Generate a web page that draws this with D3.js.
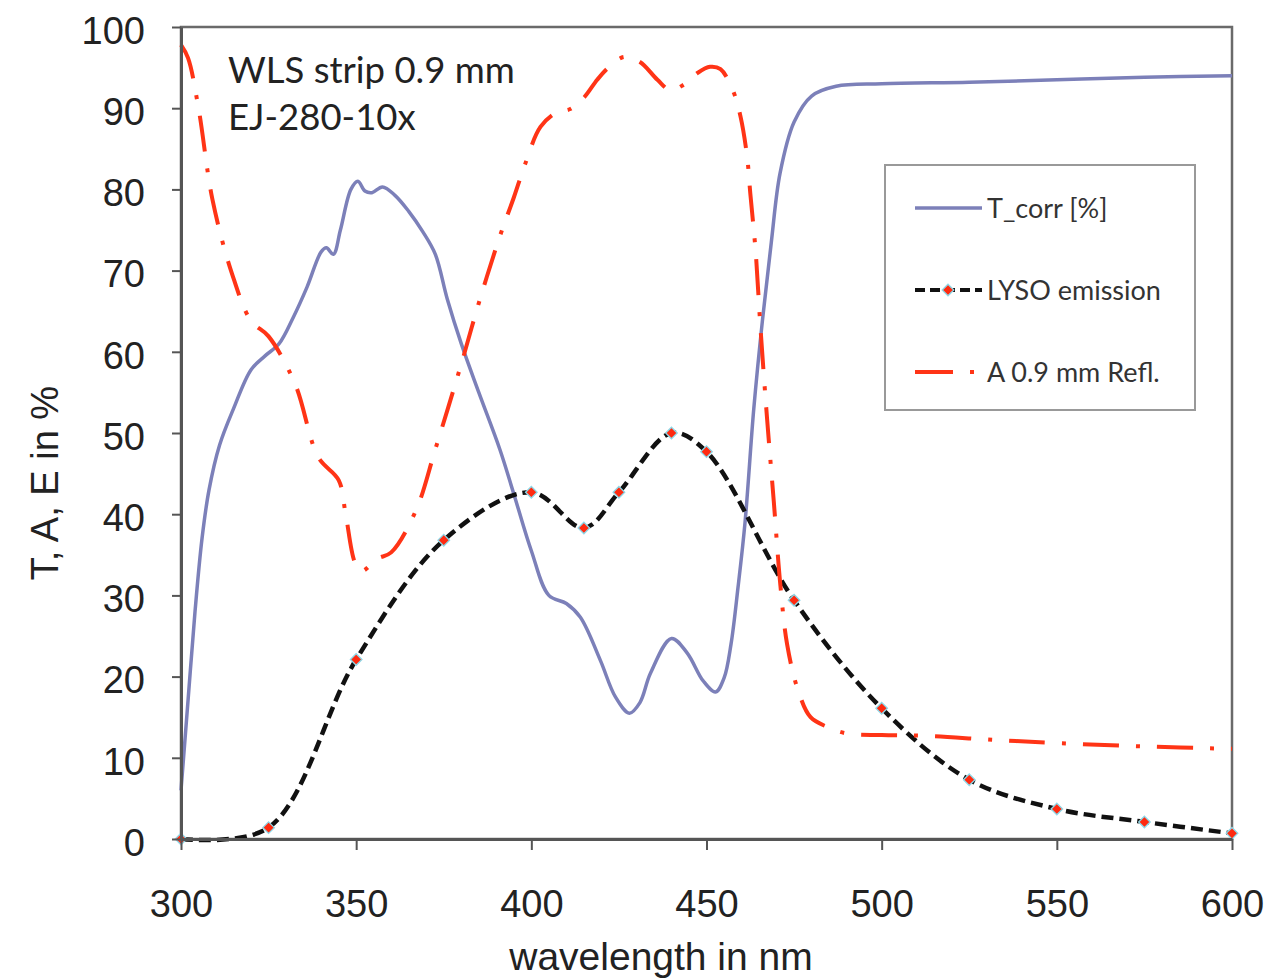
<!DOCTYPE html>
<html>
<head>
<meta charset="utf-8">
<script src="https://d3js.org/d3.v7.min.js"></script>
<style>
  body { margin: 0; background: #fff; }
  svg { display: block; }
</style>
</head>
<body>
<svg id="chart"></svg>
<script>
// T_corr [%] (transmission)
const tWavelength = [300, 302, 304, 306, 308, 311, 315, 320, 324, 328, 332, 336, 340, 341.5, 343.5, 345.5,
  348.5, 350.5, 352.5, 354.5, 357.5, 361, 365, 369, 372.6, 376, 380, 385, 391, 395, 400, 405, 410, 414,
  419.7, 424, 428, 431, 434, 440, 444.5, 449, 452.6, 455, 457, 459, 461, 463.5, 466, 468.5, 471, 475,
  480, 487, 500, 525, 550, 575, 600];
const tCorr = [6, 17, 28, 37, 43, 48.5, 53, 57.8, 59.5, 61, 64.2, 68, 72.3, 72.8, 72, 75,
  80, 81, 79.8, 79.6, 80.3, 79.3, 77.3, 74.8, 72, 66.5, 61, 55, 48, 42.5, 35.5, 30, 29, 27.3,
  22, 17.5, 15.5, 16.8, 20.4, 24.7, 22.9, 19.5, 18.1, 19.8, 24, 31, 39, 53, 64, 73.5, 82, 88.3,
  91.5, 92.7, 93, 93.2, 93.5, 93.8, 94];

// A 0.9 mm Refl.
const aWavelength = [300, 302, 305, 309, 314.5, 320, 325, 332.6, 339.2, 345, 347, 349.7, 351.6, 356, 360,
  367, 372.6, 380, 385, 391, 395, 398.3, 402.6, 407.3, 411.1, 415, 418.8, 422, 426.4, 431, 436, 439.7,
  443.5, 447.3, 451, 454, 457.7, 459.7, 461.6, 462.5, 464, 465.4, 467.3, 469.2, 471.1, 473, 476, 479.7,
  484.5, 490, 500, 513, 532, 551, 575, 600];
const aRefl = [97.8, 96.2, 90, 78.7, 69.7, 63.8, 61.9, 56, 47, 44.2, 40, 34, 33, 34.5, 35.3,
  40.4, 48, 58.5, 66, 74.2, 79, 83.2, 87.7, 89.5, 89.9, 91.3, 93.5, 95, 96.3, 95.7, 93.5, 92.2,
  92.9, 94.3, 95.1, 94.8, 92, 89, 84, 79.5, 72.5, 63, 51.7, 41.6, 31.2, 24, 18.5, 15,
  13.8, 13, 12.8, 12.7, 12.2, 11.8, 11.4, 11.1];

// LYSO emission (markers)
const lysoWavelength = [300, 325, 350, 375, 400, 415, 425, 440, 450, 475, 500, 525, 550, 575, 600];
const lysoEmission = [0, 1.4, 22.1, 36.8, 42.7, 38.3, 42.7, 50, 47.7, 29.4, 16.1, 7.3, 3.7, 2.1, 0.7];

const xTicks = [300, 350, 400, 450, 500, 550, 600];
const yTicks = [0, 10, 20, 30, 40, 50, 60, 70, 80, 90, 100];
const legendLabels = ["T_corr [%]", "LYSO emission", "A 0.9 mm Refl."];
const noteLines = ["WLS strip 0.9 mm", "EJ-280-10x"];

class SpectrumChart {
    constructor() {
        this.width = 1282;
        this.height = 978;
        this.margin = { top: 27, right: 50, bottom: 139, left: 181 };
        this.tickFont = "'Liberation Sans', Arial, Helvetica, sans-serif";
        this.textFont = "Lato, 'Open Sans', sans-serif";
        this.blue = "#7c80b9";
        this.red = "#ff3416";
    }

    init() {
        this.svg = d3.select('#chart')
            .attr('width', this.width)
            .attr('height', this.height);

        this.innerWidth = this.width - this.margin.left - this.margin.right;
        this.innerHeight = this.height - this.margin.top - this.margin.bottom;

        this.chart = this.svg.append('g')
            .attr('transform', `translate(${this.margin.left}, ${this.margin.top})`);

        this.xscale = d3.scaleLinear().domain([300, 600]).range([0, this.innerWidth]);
        this.yscale = d3.scaleLinear().domain([0, 100]).range([this.innerHeight, 0]);

        this.drawFrame();
        this.render();
        this.drawAxes();
        this.drawLegend();
        this.drawNote();
    }

    drawFrame() {
        this.chart.append('rect')
            .attr('width', this.innerWidth)
            .attr('height', this.innerHeight)
            .attr('fill', 'none')
            .attr('stroke', '#6a6a6a')
            .attr('stroke-width', 2.5);
    }

    drawAxes() {
        const xaxis = d3.axisBottom(this.xscale).tickValues(xTicks)
            .tickSize(11).tickSizeOuter(0).tickPadding(40);
        const yaxis = d3.axisLeft(this.yscale).tickValues(yTicks)
            .tickSize(9).tickSizeOuter(0).tickPadding(27);

        const gx = this.chart.append('g')
            .attr('transform', `translate(0, ${this.innerHeight})`)
            .call(xaxis);
        const gy = this.chart.append('g').call(yaxis);

        [gx, gy].forEach(g => {
            g.select('.domain').attr('stroke', '#555').attr('stroke-width', 3);
            g.selectAll('.tick line').attr('stroke', '#555').attr('stroke-width', 2);
            g.selectAll('.tick text')
                .attr('fill', '#222')
                .style('font-family', this.tickFont)
                .style('font-size', '38px');
        });
        gy.selectAll('.tick text').attr('dy', '0.43em');

        // axis titles
        this.svg.append('text')
            .attr('x', 661).attr('y', 970)
            .attr('text-anchor', 'middle')
            .attr('fill', '#222')
            .style('font-family', this.tickFont)
            .style('font-size', '39px')
            .text('wavelength in nm');

        this.svg.append('text')
            .attr('transform', 'translate(58, 483) rotate(-90)')
            .attr('text-anchor', 'middle')
            .attr('fill', '#222')
            .style('font-family', this.tickFont)
            .style('font-size', '38px')
            .text('T, A, E in %');
    }

    render() {
        const line = d3.line()
            .x(d => this.xscale(d[0]))
            .y(d => this.yscale(d[1]))
            .curve(d3.curveCatmullRom.alpha(0.5));

        const tData = tWavelength.map((w, i) => [w, tCorr[i]]);
        const aData = aWavelength.map((w, i) => [w, aRefl[i]]);
        const eData = lysoWavelength.map((w, i) => [w, lysoEmission[i]]);

        this.chart.append('path')
            .datum(tData)
            .attr('d', line)
            .attr('fill', 'none')
            .attr('stroke', this.blue)
            .attr('stroke-width', 3.5);

        this.chart.append('path')
            .datum(eData)
            .attr('d', line)
            .attr('fill', 'none')
            .attr('stroke', '#111')
            .attr('stroke-width', 4.5)
            .attr('stroke-dasharray', '12 6');

        this.chart.selectAll('.lyso-marker')
            .data(eData)
            .enter()
            .append('path')
            .attr('class', 'lyso-marker')
            .attr('d', d3.symbol(d3.symbolDiamond2, 85))
            .attr('transform', d => `translate(${this.xscale(d[0])}, ${this.yscale(d[1])})`)
            .attr('fill', '#ff2a10')
            .attr('stroke', '#8ed8e8')
            .attr('stroke-width', 1.3);

        this.chart.append('path')
            .datum(aData)
            .attr('d', line)
            .attr('fill', 'none')
            .attr('stroke', this.red)
            .attr('stroke-width', 4)
            .attr('stroke-dasharray', '36 17 4 17');
    }

    drawLegend() {
        const lg = this.svg.append('g');
        lg.append('rect')
            .attr('x', 885).attr('y', 165)
            .attr('width', 310).attr('height', 245)
            .attr('fill', '#fff')
            .attr('stroke', '#999')
            .attr('stroke-width', 2);

        const rows = [208, 290, 372];
        const x0 = 915, x1 = 982;

        lg.append('line')
            .attr('x1', x0).attr('x2', x1).attr('y1', rows[0]).attr('y2', rows[0])
            .attr('stroke', this.blue).attr('stroke-width', 3.5);

        lg.append('line')
            .attr('x1', x0).attr('x2', x1).attr('y1', rows[1]).attr('y2', rows[1])
            .attr('stroke', '#111').attr('stroke-width', 4)
            .attr('stroke-dasharray', '10 5');
        lg.append('path')
            .attr('d', d3.symbol(d3.symbolDiamond2, 85))
            .attr('transform', `translate(948, ${rows[1]})`)
            .attr('fill', '#ff2a10')
            .attr('stroke', '#8ed8e8')
            .attr('stroke-width', 1.3);

        lg.append('line')
            .attr('x1', x0).attr('x2', x1).attr('y1', rows[2]).attr('y2', rows[2])
            .attr('stroke', this.red).attr('stroke-width', 4)
            .attr('stroke-dasharray', '38 17 4 17');

        lg.selectAll('.legend-label')
            .data(legendLabels)
            .enter()
            .append('text')
            .attr('class', 'legend-label')
            .attr('x', 987)
            .attr('y', (d, i) => rows[i])
            .attr('dy', '0.36em')
            .attr('fill', '#333')
            .style('font-family', this.textFont)
            .style('font-size', '27px')
            .text(d => d);
    }

    drawNote() {
        this.svg.selectAll('.note')
            .data(noteLines)
            .enter()
            .append('text')
            .attr('class', 'note')
            .attr('x', 228)
            .attr('y', (d, i) => 83 + i * 47)
            .attr('fill', '#222')
            .style('font-family', this.textFont)
            .style('font-size', '36.5px')
            .text(d => d);
    }
}

const chart = new SpectrumChart();
chart.init();
</script>
</body>
</html>
